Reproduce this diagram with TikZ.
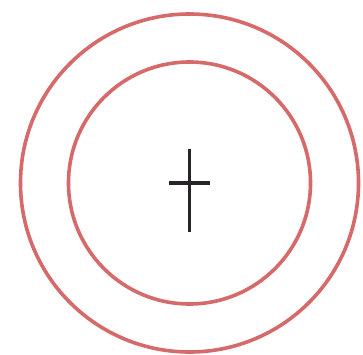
\documentclass[tikz,border=0pt]{standalone}
\usetikzlibrary{positioning}
\definecolor{ringred}{RGB}{214,106,106}
\definecolor{crossdark}{RGB}{38,36,38}

\begin{document}
\begin{tikzpicture}[
    x=1pt, y=1pt,
    ring/.style={
        draw=ringred,
        line width=3.6pt
    },
    crossline/.style={
        draw=crossdark,
        line width=3.6pt
    }
]

% Set bounding box to match the reference size
\useasboundingbox (0,0) rectangle (363,354);

% ================= CENTRE =================
\coordinate (centre) at (189.5,171);

% ================= RINGS =================
\node[ring, circle, minimum size=338pt, inner sep=0pt] (outer) at (centre) {};
\node[ring, circle, minimum size=242pt, inner sep=0pt] (inner) at (centre) {};

% ================= CROSS =================
\coordinate (crosstop) at (189.5,205);
\coordinate (crossbottom) at (189.5,122);
\coordinate (crossleft) at (168.5,171);
\coordinate (crossright) at (209.5,171);

\draw[crossline] (crosstop) -- (crossbottom);
\draw[crossline] (crossleft) -- (crossright);

\end{tikzpicture}
\end{document}
